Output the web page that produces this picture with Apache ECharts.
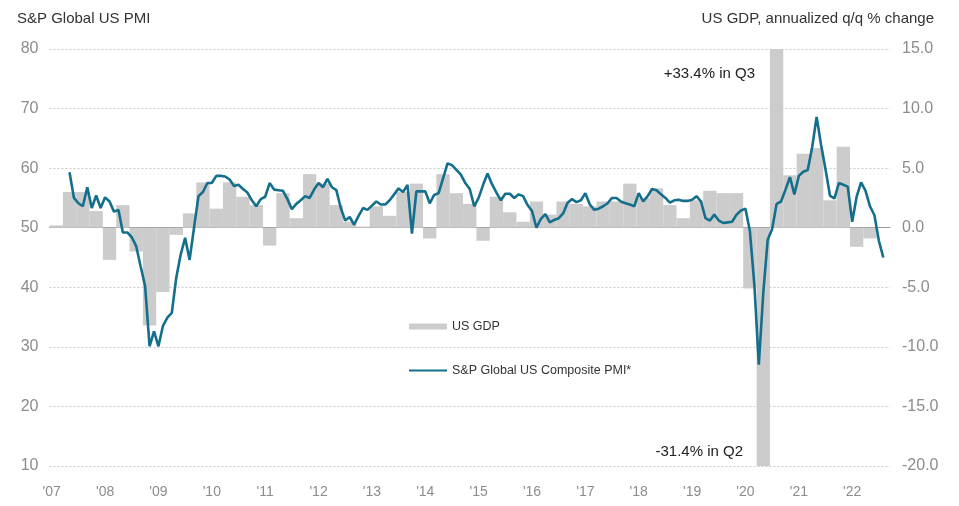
<!DOCTYPE html>
<html>
<head>
<meta charset="utf-8">
<script src="https://cdn.jsdelivr.net/npm/echarts@6/dist/echarts.min.js"></script>
<style>
  html, body { margin: 0; padding: 0; background: #fff; }
  #chart { width: 959px; height: 506px; }
</style>
</head>
<body>
<div id="chart"></div>
<script>
// axis spans Jan 2007 .. Sep 2022
const startYear = 2007;
const monthCount = 189;
const yearLabels = ["'07", "'08", "'09", "'10", "'11", "'12", "'13", "'14", "'15", "'16", "'17", "'18", "'19", "'20", "'21", "'22"];

// S&P Global US Composite PMI, monthly from May 2007 to Aug 2022
const pmiFirstMonth = 4;
const pmi = [
  59.3, 55.0, 54.1, 53.6, 56.8, 53.3, 55.4, 53.3,
  55.1, 54.4, 52.7, 53.0, 49.2, 49.2, 48.4, 46.9, 43.5, 40.2, 30.1, 32.6,
  30.1, 33.5, 34.9, 35.7, 41.6, 45.5, 48.3, 44.6, 50.0, 55.3, 56.0, 57.5,
  57.5, 58.7, 58.7, 58.6, 58.1, 57.0, 57.2, 56.5, 55.9, 54.6, 53.6, 54.8,
  55.2, 57.5, 56.4, 56.3, 56.2, 54.8, 53.1, 54.0, 54.6, 55.3, 55.0, 56.4,
  57.5, 56.8, 58.2, 56.8, 56.3, 53.3, 51.2, 51.8, 50.5, 52.0, 53.3, 53.0,
  53.7, 54.4, 53.9, 53.9, 54.6, 55.6, 56.6, 56.0, 57.2, 49.0, 56.1, 56.1,
  56.1, 54.1, 55.5, 55.8, 58.3, 60.8, 60.5, 59.7, 58.9, 57.5, 56.5, 53.6,
  55.0, 57.2, 59.1, 57.3, 55.9, 54.6, 55.7, 55.7, 55.0, 55.6, 55.3, 53.8,
  52.8, 50.0, 51.5, 52.3, 50.9, 51.3, 51.6, 52.4, 54.2, 54.8, 54.3, 54.6,
  55.8, 53.9, 53.0, 53.2, 53.6, 54.1, 55.0, 55.0, 54.4, 54.1, 53.9, 53.6,
  55.8, 54.4, 55.3, 56.5, 56.3, 55.6, 55.0, 54.2, 54.6, 54.7, 54.5, 54.5,
  54.7, 55.3, 54.4, 51.6, 51.2, 52.2, 51.2, 50.8, 50.9, 51.0, 52.2, 52.9,
  53.2, 49.4, 40.4, 27.0, 39.0, 48.0, 49.8, 54.0, 54.4, 56.4, 58.5, 55.6,
  58.7, 59.4, 59.7, 63.5, 68.6, 63.9, 59.8, 55.4, 54.9, 57.5, 57.2, 56.9,
  51.0, 55.2, 57.6, 56.2, 53.6, 52.1, 47.8, 45.0
];

// US GDP, annualized q/q % change, Q1 2007 .. Q3 2022
const gdp = [
  0.2, 3.0, 3.0, 1.4,
  -2.7, 1.9, -2.0, -8.2,
  -5.4, -0.6, 1.2, 3.8,
  1.6, 3.8, 2.6, 1.9,
  -1.5, 2.9, 0.8, 4.5,
  3.7, 1.9, 0.5, 0.1,
  1.8, 1.0, 3.0, 3.7,
  -0.9, 4.5, 2.9, 2.0,
  -1.1, 2.6, 1.3, 0.5,
  2.2, 1.1, 2.2, 2.0,
  1.8, 2.2, 2.2, 3.7,
  2.5, 3.3, 1.9, 0.8,
  2.3, 3.1, 2.9, 2.9,
  -5.1, -31.4, 33.4, 4.4,
  6.2, 6.7, 2.3, 6.8,
  -1.6, -0.9, null
];

const months = [];
for (let i = 0; i < monthCount; i++) {
  const y = startYear + Math.floor(i / 12);
  months.push(y + '-' + String(i % 12 + 1).padStart(2, '0'));
}
const quarters = [];
for (let i = 0; i < monthCount / 3; i++) {
  quarters.push((startYear + Math.floor(i / 4)) + 'Q' + (i % 4 + 1));
}
const pmiData = new Array(pmiFirstMonth).fill(null).concat(pmi);

const chart = echarts.init(document.getElementById('chart'));

const fontFamily = 'Liberation Sans, Arial, sans-serif';
const gridLine = { show: true, lineStyle: { color: '#c8c8c8', type: [2, 2], width: 1 } };

chart.setOption({
  animation: false,
  textStyle: { fontFamily: fontFamily },
  grid: { left: 49.5, right: 69, top: 49, bottom: 40 },
  title: [
    { text: 'S&P Global US PMI', left: 12, top: 6,
      textStyle: { fontSize: 15, fontWeight: 'normal', color: '#333' } },
    { text: 'US GDP, annualized q/q % change', right: 20, top: 6,
      textStyle: { fontSize: 15, fontWeight: 'normal', color: '#333' } }
  ],
  legend: {
    orient: 'vertical',
    left: 403,
    top: 315,
    itemGap: 31,
    itemWidth: 38,
    itemHeight: 6,
    textStyle: { fontSize: 12.5, color: '#333' },
    data: [
      { name: 'US GDP', icon: 'rect' },
      { name: 'S&P Global US Composite PMI*', itemStyle: { opacity: 0 } }
    ]
  },
  xAxis: [
    {
      type: 'category',
      data: months,
      boundaryGap: true,
      axisLine: { lineStyle: { color: '#9a9a9a' } },
      axisTick: { interval: 11, length: 5, lineStyle: { color: '#9a9a9a' } },
      axisLabel: {
        interval: 11,
        margin: 19,
        color: '#8c8c8c',
        fontSize: 14,
        formatter: (v, i) => yearLabels[Math.floor(i / 12)]
      },
      splitLine: { show: false }
    },
    {
      type: 'category',
      data: quarters,
      boundaryGap: true,
      show: false
    }
  ],
  yAxis: [
    {
      type: 'value',
      min: 10, max: 80, interval: 10,
      axisLine: { show: false },
      axisTick: { show: false },
      axisLabel: { margin: 11, color: '#8c8c8c', fontSize: 16 },
      splitLine: gridLine
    },
    {
      type: 'value',
      min: -20, max: 15, interval: 5,
      axisLine: { show: false },
      axisTick: { show: false },
      axisLabel: { margin: 12, color: '#8c8c8c', fontSize: 16, formatter: v => v.toFixed(1) },
      splitLine: { show: false }
    }
  ],
  series: [
    {
      name: 'US GDP',
      type: 'bar',
      xAxisIndex: 1,
      yAxisIndex: 1,
      data: gdp,
      barCategoryGap: '0%',
      clip: true,
      itemStyle: { color: '#cccccc' },
      z: 1
    },
    {
      name: 'S&P Global US Composite PMI*',
      type: 'line',
      xAxisIndex: 0,
      yAxisIndex: 0,
      data: pmiData,
      symbol: 'none',
      showSymbol: false,
      lineStyle: { color: '#136f8c', width: 2.6 },
      itemStyle: { color: '#136f8c' },
      z: 3
    }
  ],
  graphic: [
    { type: 'text', x: 755, y: 74, z: 10,
      style: { text: '+33.4% in Q3', fontSize: 15, fill: '#222', align: 'right', verticalAlign: 'middle',
               fontFamily: fontFamily } },
    { type: 'text', x: 743, y: 452, z: 10,
      style: { text: '-31.4% in Q2', fontSize: 15, fill: '#222', align: 'right', verticalAlign: 'middle',
               fontFamily: fontFamily } }
  ]
});
</script>
</body>
</html>
